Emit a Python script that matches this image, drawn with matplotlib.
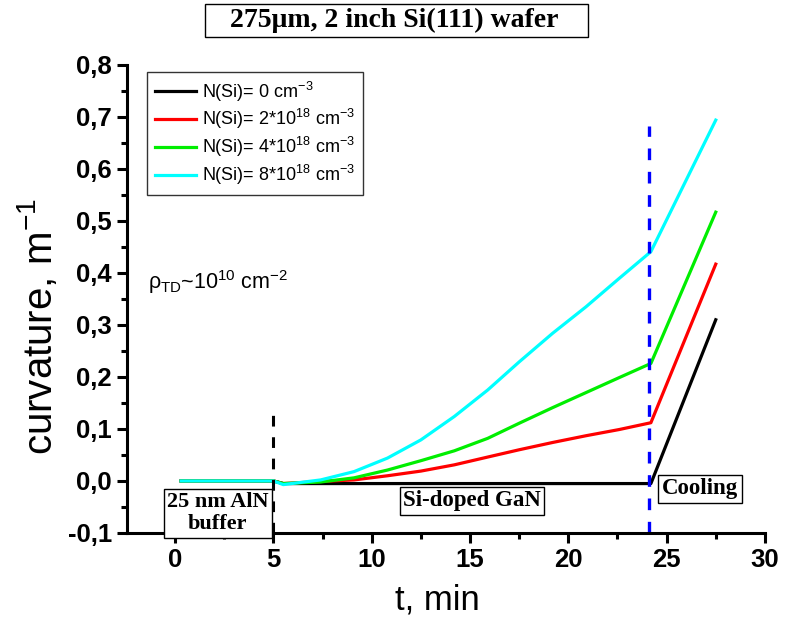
import matplotlib
matplotlib.use("Agg")
from matplotlib import pyplot as plt
from matplotlib.patches import Rectangle
from matplotlib.ticker import MultipleLocator, FuncFormatter

# data
t = [0.3, 5.0, 5.5, 7.4, 9.1, 10.8, 12.5, 14.2, 15.9, 17.5, 19.2, 20.9, 22.6, 24.2, 27.5]
n0 = [0.0, 0.0, -0.005, -0.005, -0.005, -0.005, -0.005, -0.005, -0.005, -0.005, -0.005, -0.005, -0.005, -0.005, 0.31]
n2 = [0.0, 0.0, -0.005, -0.001, 0.002, 0.010, 0.019, 0.031, 0.046, 0.060, 0.074, 0.087, 0.099, 0.112, 0.417]
n4 = [0.0, 0.0, -0.005, -0.002, 0.006, 0.021, 0.039, 0.058, 0.082, 0.111, 0.141, 0.170, 0.199, 0.226, 0.517]
n8 = [0.0, 0.0, -0.007, 0.002, 0.018, 0.044, 0.079, 0.124, 0.175, 0.229, 0.284, 0.335, 0.390, 0.441, 0.694]

labels = [r"N(Si)= 0 cm$^{-3}$",
          r"N(Si)= 2*10$^{18}$ cm$^{-3}$",
          r"N(Si)= 4*10$^{18}$ cm$^{-3}$",
          r"N(Si)= 8*10$^{18}$ cm$^{-3}$"]
colors = ["black", "#ff0000", "#00ee00", "#00ffff"]

plt.rcParams['font.family'] = ['Liberation Sans', 'DejaVu Sans']
plt.rcParams['mathtext.fontset'] = 'custom'
plt.rcParams['mathtext.rm'] = 'Liberation Sans'
plt.rcParams['mathtext.it'] = 'Liberation Sans'

fig = plt.figure(figsize=(7.91, 6.19), dpi=100)
ax = fig.add_axes([0.1606, 0.139, 0.8064, 0.756])

for y, c, lab in zip([n0, n2, n4, n8], colors, labels):
    ax.plot(t, y, color=c, lw=2.3, label=lab)

ax.plot([5, 5], [-0.1, 0.138], color="black", lw=2.2, ls=(0, (3.5, 3.5)))
ax.plot([24.1, 24.1], [-0.1, 0.683], color="#0000ff", lw=2.4, ls=(0, (3.5, 3.5)))

ax.set_xlim(-2.45, 30)
ax.set_ylim(-0.1, 0.8)
ax.xaxis.set_major_locator(MultipleLocator(5))
ax.xaxis.set_minor_locator(MultipleLocator(2.5))
ax.yaxis.set_major_locator(MultipleLocator(0.1))
ax.yaxis.set_minor_locator(MultipleLocator(0.05))
ax.yaxis.set_major_formatter(FuncFormatter(lambda v, p: f"{v:.1f}".replace(".", ",").replace("-0,0", "0,0")))
ax.xaxis.set_major_formatter(FuncFormatter(lambda v, p: f"{v:.0f}"))

for s in ["top", "right"]:
    ax.spines[s].set_visible(False)
for s in ["left", "bottom"]:
    ax.spines[s].set_linewidth(2.2)
ax.tick_params(which="major", direction="out", length=7, width=2.2, labelsize=18.5, pad=4)
ax.tick_params(which="minor", direction="out", length=4, width=2.2)
for lab in ax.get_xticklabels() + ax.get_yticklabels():
    lab.set_fontweight("bold")

ax.set_xlabel("t, min", fontsize=25)
ax.set_ylabel(r"curvature, m$^{-1}$", fontsize=29)
ax.xaxis.set_label_coords(0.486, -0.143)
ax.yaxis.set_label_coords(-0.14, 0.44)
ax.xaxis.label.set_va("center")
ax.yaxis.label.set_va("center")

leg = ax.legend(loc="upper left", bbox_to_anchor=(0.031, 0.986), borderaxespad=0, fontsize=13,
                frameon=True, fancybox=False, edgecolor="black", handlelength=2.3,
                borderpad=0.45, labelspacing=0.2, handletextpad=0.3)
leg.get_frame().set_linewidth(1.0)

ax.text(-1.4, 0.37, r"$\rho_{\rm TD}$~10$^{10}$ cm$^{-2}$", fontsize=15.5)

box = dict(boxstyle="square,pad=0.15", facecolor="white", edgecolor="black", lw=1.0)
serif = ['Liberation Serif', 'DejaVu Serif']
ax.text(2.16, -0.062, "25 nm AlN\nbuffer", ha="center", va="center", fontsize=16,
        fontweight="bold", family=serif, bbox=box, linespacing=1.15, zorder=5, clip_on=False)
ax.text(15.1, -0.038, "Si-doped GaN", ha="center", va="center", fontsize=16.5,
        fontweight="bold", family=serif, bbox=box, zorder=5)
ax.text(26.7, -0.015, "Cooling", ha="center", va="center", fontsize=16.5,
        fontweight="bold", family=serif, bbox=box, zorder=5)

fig.add_artist(Rectangle((205 / 791, 1 - 37 / 619), 383 / 791, 33 / 619,
                         transform=fig.transFigure, fill=False, edgecolor="black", lw=1.0))
fig.text(0.499, 0.967, "275\u03bcm, 2 inch Si(111) wafer", ha="center", va="center",
         fontsize=20, fontweight="bold", family=serif)

fig.savefig("out.png", dpi=100)
